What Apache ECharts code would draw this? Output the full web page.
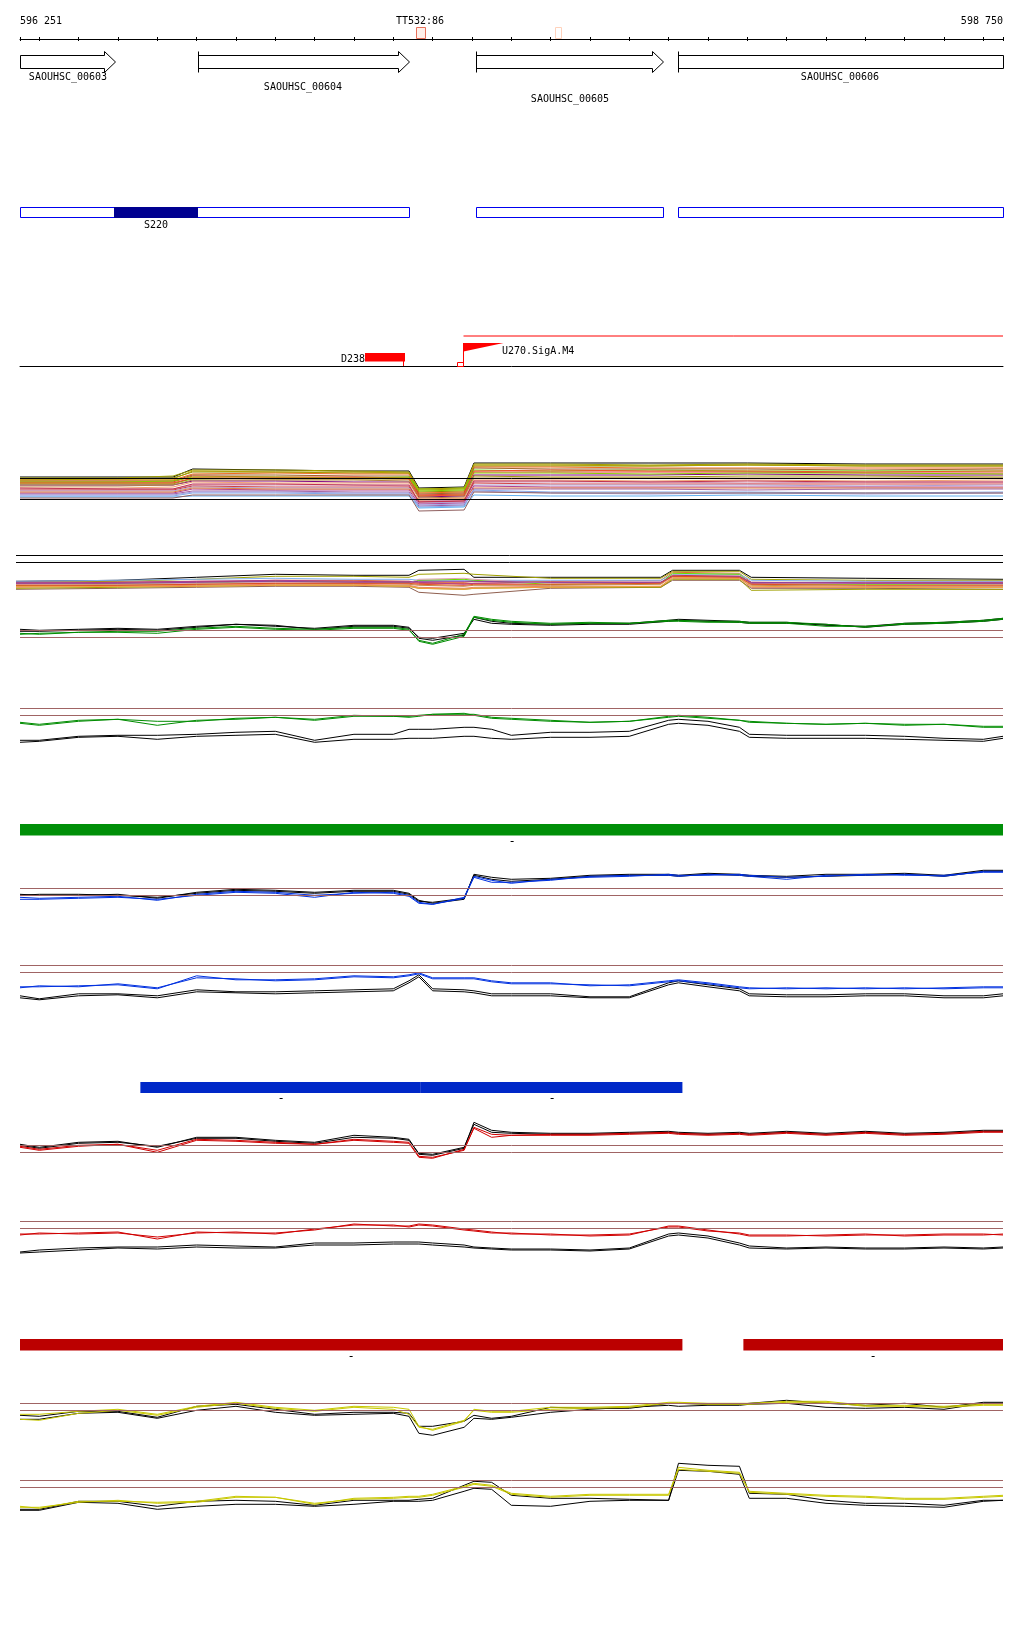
<!DOCTYPE html>
<html><head><meta charset="utf-8">
<script src="https://cdn.jsdelivr.net/npm/echarts@6/dist/echarts.min.js"></script>
<style>html,body{margin:0;padding:0;background:#fff}#c{width:1024px;height:1640px}</style>
</head><body><div id="c"></div>
<script>
// ---------------- DATA ----------------
const viewStart = 596251, viewEnd = 598750;
const rulerTicks = [596251,596300,596400,596500,596600,596700,596800,596900,597000,597100,597200,597300,597400,597500,597600,597700,597800,597900,598000,598100,598200,598300,598400,598500,598600,598700,598750];
const rulerLabels = [596251, 598750];
const terminatorMarks = [[597257, 597281, 'TT532:86'], [597611, 597626, '']];

const geneNames  = ['SAOUHSC_00603','SAOUHSC_00604','SAOUHSC_00605','SAOUHSC_00606'];
const geneStarts = [596180, 596703, 597411, 597923];
const geneEnds   = [596493, 597240, 597886, 598900];

const transcriptStarts = [596200, 597411, 597923];
const transcriptEnds   = [597240, 597886, 598900];
const operonNames = ['S220'];
const operonStarts = [596491];
const operonEnds = [596704];

const termNames = ['D238'];
const termStarts = [597127];
const termEnds = [597228];
const promoterNames = ['U270.SigA.M4'];
const promoterPos = [597378];

const greenSegments = [[596251, 598750]];
const blueSegments  = [[596557, 597270], [597270, 597935]];
const redSegments   = [[596200, 597935], [598090, 598750]];

// multi-condition track A
const posA = [596251,596500,596640,596690,596900,597100,597240,597265,597380,597405,597600,597850,598100,598400,598750];
const trackARefs = [8.0, 5.87];
const trackAValues = [
 [8.1,8.1,8.1,8.9,8.8,8.7,8.7,7.0,7.1,9.5,9.5,9.5,9.5,9.4,9.4],
 [8.0,8.0,8.2,8.8,8.8,8.7,8.6,6.8,6.9,9.4,9.4,9.3,9.4,9.3,9.3],
 [7.9,7.9,8.0,8.6,8.6,8.5,8.5,6.6,6.7,9.2,9.2,9.2,9.3,9.2,9.2],
 [7.8,7.8,7.8,8.4,8.5,8.4,8.4,6.5,6.6,9.1,9.1,9.0,9.0,9.0,9.0],
 [7.7,7.7,7.7,8.3,8.3,8.2,8.2,6.4,6.5,9.0,8.9,8.9,8.9,8.8,8.9],
 [7.5,7.5,7.5,7.9,8.0,8.0,8.1,6.9,7.0,8.8,8.7,8.8,8.7,8.7,8.7],
 [7.6,7.6,7.6,8.2,8.1,8.1,8.0,6.3,6.4,8.6,8.6,8.6,8.6,8.5,8.5],
 [7.3,7.3,7.3,7.7,7.7,7.6,7.6,6.1,6.2,8.3,8.3,8.3,8.4,8.3,8.3],
 [7.4,7.4,7.4,8.0,7.9,7.9,7.9,6.2,6.3,8.2,8.1,8.1,8.2,8.2,8.1],
 [7.2,7.2,7.3,7.8,7.8,7.8,7.7,6.0,6.1,8.0,8.0,8.0,8.0,8.0,8.0],
 [7.0,7.0,7.1,7.6,7.5,7.5,7.5,5.9,6.0,7.8,7.8,7.7,7.8,7.7,7.8],
 [6.9,6.9,6.9,7.3,7.3,7.3,7.2,5.7,5.8,7.6,7.6,7.6,7.5,7.6,7.6],
 [6.8,6.8,6.8,7.2,7.1,7.1,7.1,5.6,5.7,7.5,7.4,7.4,7.4,7.4,7.4],
 [6.7,6.7,6.7,7.1,7.0,7.0,7.0,5.5,5.6,7.3,7.3,7.3,7.3,7.2,7.3],
 [6.5,6.5,6.5,6.9,6.8,6.8,6.8,5.4,5.5,7.2,7.1,7.1,7.1,7.1,7.1],
 [6.6,6.6,6.6,7.0,6.9,6.9,6.9,5.8,5.9,7.0,7.0,7.0,7.0,7.0,7.0],
 [6.4,6.4,6.4,6.7,6.7,6.6,6.6,5.2,5.3,6.9,6.9,6.9,6.8,6.9,6.9],
 [6.2,6.2,6.2,6.5,6.5,6.4,6.4,5.1,5.2,6.8,6.6,6.6,6.6,6.5,6.6],
 [6.3,6.3,6.3,6.6,6.6,6.5,6.5,5.3,5.4,6.7,6.5,6.4,6.5,6.4,6.5],
 [6.1,6.1,6.1,6.2,6.2,6.2,6.2,5.0,5.1,6.3,6.2,6.2,6.3,6.2,6.2],
 [6.0,6.0,6.0,6.3,6.3,6.3,6.3,4.7,4.8,6.6,6.5,6.5,6.5,6.5,6.5],
 [7.0,6.9,6.9,7.4,7.4,7.3,7.3,5.6,5.7,7.7,7.7,7.6,7.7,7.6,7.6],
 [7.6,7.6,7.7,8.1,8.1,8.0,8.0,6.7,6.8,8.5,8.5,8.4,8.5,8.5,8.4],
 [7.8,7.9,7.9,8.7,8.6,8.6,8.5,6.9,7.0,9.3,9.3,9.2,9.3,9.2,9.2],
 [7.5,7.5,7.5,8.0,8.0,8.0,7.9,6.2,6.3,8.7,8.8,8.7,8.7,8.6,8.7]
];

// multi-condition track B
const posB = [596241,596500,596700,596900,597100,597240,597265,597380,597405,597600,597880,597910,598080,598110,598400,598750];
const trackBRefs = [8.7, 8.0];
const trackBValues = [
 [6.1,6.2,6.5,6.8,6.7,6.7,7.2,7.3,6.5,6.5,6.5,7.2,7.2,6.5,6.4,6.3],
 [6.0,6.1,6.3,6.6,6.6,6.5,6.8,6.9,6.8,6.4,6.4,7.1,7.1,6.3,6.2,6.2],
 [5.8,5.9,6.0,6.2,6.2,6.1,6.0,6.0,6.1,6.1,6.2,7.0,6.9,6.0,6.0,6.0],
 [6.1,6.2,6.3,6.4,6.3,6.3,6.2,6.2,6.2,6.2,6.2,6.8,6.8,6.2,6.1,6.1],
 [5.9,6.0,6.1,6.1,6.1,6.0,5.9,5.9,5.9,6.0,6.0,6.7,6.6,5.9,5.9,5.9],
 [5.7,5.8,5.9,6.1,6.0,6.0,6.2,6.3,6.2,5.8,5.9,6.9,6.8,5.8,5.8,5.8],
 [5.6,5.7,5.8,5.9,5.9,5.8,5.7,5.6,5.7,5.7,5.8,6.6,6.5,5.7,5.6,5.6],
 [6.0,6.0,6.1,6.2,6.1,6.1,6.0,5.8,5.9,6.0,6.0,6.6,6.6,5.9,6.0,6.0],
 [5.8,5.8,5.9,6.0,6.0,5.9,6.3,6.4,6.3,5.9,5.9,6.5,6.5,5.8,5.9,5.8],
 [5.5,5.6,5.7,5.8,5.8,5.7,5.5,5.4,5.5,5.6,5.6,6.4,6.4,5.5,5.5,5.5],
 [5.3,5.4,5.5,5.6,5.6,5.5,5.0,4.7,4.8,5.4,5.5,6.2,6.2,5.4,5.4,5.3],
 [5.4,5.5,5.6,5.7,5.7,5.6,5.4,5.3,5.4,5.5,5.5,6.3,6.3,5.2,5.3,5.3],
 [5.6,5.6,5.6,5.7,5.7,5.6,5.4,5.3,5.4,5.5,5.6,6.5,6.4,5.6,5.5,5.5],
 [5.9,5.9,6.0,6.1,6.0,6.0,6.1,6.1,6.1,6.0,6.0,6.6,6.6,6.0,5.9,5.9],
 [5.7,5.7,5.8,5.9,5.9,5.9,5.8,5.7,5.8,5.8,5.9,6.6,6.5,5.8,5.7,5.7]
];

// paired tracks (two replicates of condition + two of reference)
const posL = [596251,596300,596400,596500,596600,596700,596800,596900,597000,597100,597200,597240,597265,597300,597380,597405,597450,597500,597600,597700,597800,597900,597925,598000,598080,598105,598200,598300,598400,598500,598600,598700,598750];
const thresholdHigh = 5.7, thresholdLow = 5.0;

const green1A = [5.4,5.3,5.5,5.6,5.6,5.9,6.1,5.9,5.8,6.0,6.0,5.8,4.6,4.3,5.1,7.0,6.7,6.5,6.3,6.4,6.4,6.6,6.6,6.5,6.5,6.4,6.4,6.1,6.1,6.3,6.4,6.6,6.8];
const green1B = [5.3,5.4,5.5,5.5,5.4,5.8,6.0,5.8,5.7,5.9,5.9,5.7,4.7,4.4,5.3,7.1,6.8,6.6,6.4,6.5,6.4,6.7,6.7,6.6,6.6,6.5,6.5,6.3,6.0,6.4,6.5,6.7,6.9];
const green1RefA = [5.8,5.7,5.8,5.9,5.8,6.1,6.3,6.1,5.9,6.2,6.2,6.0,4.9,4.7,5.2,7.0,6.6,6.4,6.3,6.4,6.4,6.7,6.8,6.7,6.6,6.5,6.5,6.2,6.1,6.4,6.5,6.7,6.9];
const green1RefB = [5.6,5.6,5.7,5.8,5.7,6.0,6.3,6.2,5.8,6.1,6.1,5.9,5.0,4.9,5.4,6.8,6.4,6.3,6.2,6.3,6.3,6.6,6.7,6.6,6.5,6.4,6.4,6.3,6.0,6.3,6.4,6.6,6.8];

const green2A = [4.3,4.1,4.5,4.6,4.4,4.4,4.7,4.8,4.6,5.0,4.9,4.9,5.0,5.1,5.2,5.0,4.7,4.6,4.4,4.3,4.4,4.9,5.0,4.8,4.5,4.3,4.2,4.1,4.2,4.0,4.1,3.8,3.8];
const green2B = [4.2,4.0,4.4,4.6,4.0,4.5,4.6,4.8,4.5,4.9,4.9,4.8,4.9,5.1,5.1,5.1,4.8,4.7,4.5,4.3,4.4,4.8,4.9,4.7,4.5,4.4,4.2,4.1,4.2,4.1,4.1,3.9,3.9];
const green2RefA = [2.5,2.5,2.9,3.0,3.0,3.1,3.3,3.4,2.5,3.1,3.1,3.6,3.6,3.6,3.8,3.8,3.6,3.0,3.3,3.3,3.4,4.5,4.6,4.4,3.8,3.1,3.0,3.0,3.0,2.9,2.7,2.6,2.9];
const green2RefB = [2.3,2.4,2.8,2.9,2.6,2.9,3.0,3.1,2.3,2.6,2.6,2.7,2.7,2.7,2.9,2.9,2.7,2.6,2.8,2.8,2.9,4.1,4.2,4.0,3.4,2.8,2.7,2.7,2.7,2.6,2.5,2.4,2.7];

const blue1A = [4.6,4.6,4.7,4.8,4.6,5.0,5.3,5.2,4.8,5.3,5.2,4.9,4.2,4.1,4.7,6.8,6.3,6.3,6.5,6.9,7.0,7.0,6.9,7.1,7.0,6.9,6.6,7.0,7.0,7.1,6.9,7.4,7.4];
const blue1B = [4.8,4.7,4.8,4.9,4.5,5.1,5.4,5.3,5.0,5.2,5.3,5.0,4.3,4.1,4.8,6.9,6.5,6.2,6.6,6.8,6.9,7.1,7.0,7.0,7.1,7.0,6.8,6.9,7.1,7.0,7.0,7.3,7.3];
const blue1RefA = [5.1,5.0,5.0,5.1,4.7,5.3,5.6,5.5,5.3,5.5,5.5,5.2,4.5,4.2,4.6,7.1,6.8,6.6,6.7,7.0,7.1,7.1,7.0,7.2,7.1,7.0,6.9,7.1,7.1,7.2,7.0,7.5,7.5];
const blue1RefB = [5.0,5.1,5.1,5.0,4.8,5.2,5.5,5.4,5.2,5.4,5.4,5.1,4.4,4.3,4.7,7.0,6.6,6.4,6.6,6.9,7.0,7.0,6.9,7.1,7.0,6.9,6.8,6.9,7.0,7.1,6.9,7.4,7.4];

const blue2A = [3.5,3.5,3.6,3.7,3.3,4.6,4.2,4.2,4.3,4.6,4.5,4.7,4.9,4.4,4.4,4.4,4.1,3.9,3.9,3.6,3.7,4.1,4.2,3.9,3.5,3.4,3.3,3.4,3.3,3.4,3.3,3.4,3.4];
const blue2B = [3.4,3.6,3.5,3.8,3.4,4.4,4.3,4.1,4.2,4.5,4.4,4.6,4.8,4.3,4.3,4.3,4.0,3.8,3.8,3.7,3.6,4.0,4.1,3.8,3.4,3.3,3.4,3.3,3.4,3.3,3.4,3.5,3.5];
const blue2RefA = [2.6,2.3,2.8,2.8,2.6,3.2,3.0,3.0,3.1,3.2,3.3,4.1,4.7,3.3,3.2,3.1,2.8,2.8,2.8,2.5,2.5,3.9,4.1,3.7,3.3,2.8,2.7,2.7,2.8,2.8,2.6,2.6,2.8];
const blue2RefB = [2.4,2.2,2.6,2.7,2.4,3.0,2.9,2.8,2.9,3.0,3.1,3.9,4.5,3.1,3.0,2.9,2.6,2.6,2.6,2.4,2.4,3.7,3.9,3.5,3.1,2.6,2.5,2.5,2.6,2.6,2.4,2.4,2.6];

const red1A = [5.6,5.3,5.7,5.8,5.2,6.3,6.2,6.0,5.8,6.3,6.1,6.0,4.6,4.5,5.2,7.5,6.8,6.7,6.8,6.8,6.9,7.0,6.9,6.8,6.9,6.8,7.0,6.8,7.0,6.8,6.9,7.1,7.1];
const red1B = [5.5,5.2,5.6,5.8,5.0,6.2,6.1,5.9,5.8,6.2,6.0,5.9,4.5,4.4,5.3,7.4,6.5,6.7,6.7,6.7,6.8,6.9,6.8,6.7,6.8,6.7,6.9,6.7,6.9,6.7,6.8,7.0,7.0];
const red1RefA = [5.8,5.5,6.0,6.1,5.5,6.5,6.5,6.2,6.0,6.7,6.5,6.3,4.8,4.7,5.4,8.0,7.2,7.0,6.9,6.9,7.0,7.1,7.0,6.9,7.0,6.9,7.1,6.9,7.1,6.9,7.0,7.2,7.2];
const red1RefB = [5.7,5.4,5.9,6.0,5.6,6.4,6.4,6.1,5.9,6.5,6.4,6.2,4.9,4.8,5.5,7.8,7.0,6.9,6.8,6.8,6.9,7.0,6.9,6.8,6.9,6.8,7.0,6.8,7.0,6.8,6.9,7.1,7.1];

const red2A = [4.4,4.4,4.5,4.6,3.9,4.6,4.5,4.5,4.8,5.4,5.2,5.2,5.4,5.3,4.9,4.8,4.6,4.4,4.4,4.2,4.3,5.2,5.2,4.8,4.4,4.2,4.2,4.3,4.4,4.2,4.3,4.3,4.4];
const red2B = [4.3,4.5,4.4,4.5,4.1,4.5,4.6,4.4,4.9,5.3,5.3,5.1,5.3,5.2,4.8,4.7,4.5,4.5,4.3,4.3,4.4,5.1,5.1,4.7,4.5,4.3,4.3,4.2,4.3,4.3,4.4,4.4,4.3];
const red2RefA = [2.6,2.8,3.0,3.1,3.1,3.3,3.2,3.1,3.5,3.5,3.6,3.6,3.6,3.5,3.3,3.1,3.0,2.9,2.9,2.8,3.0,4.4,4.5,4.2,3.5,3.2,3.0,3.1,3.0,3.0,3.1,3.0,3.1];
const red2RefB = [2.5,2.6,2.8,3.0,2.9,3.1,3.0,3.0,3.3,3.3,3.4,3.4,3.4,3.3,3.1,3.0,2.9,2.8,2.8,2.7,2.9,4.2,4.3,4.0,3.3,3.0,2.9,3.0,2.9,2.9,3.0,2.9,3.0];

const yellow1A = [4.6,4.6,4.9,5.1,4.6,5.4,5.8,5.3,5.0,5.4,5.3,5.1,3.4,3.0,3.9,5.1,4.9,4.9,5.3,5.3,5.4,5.8,5.8,5.7,5.7,5.7,5.9,5.9,5.5,5.5,5.4,5.6,5.6];
const yellow1B = [4.1,4.0,4.7,5.0,4.5,5.3,5.7,5.2,4.9,5.3,5.1,4.6,3.3,3.1,4.0,5.0,4.8,4.8,5.1,5.2,5.3,5.7,5.7,5.6,5.6,5.6,5.8,5.8,5.4,5.4,5.3,5.5,5.5];
const yellow1RefA = [4.5,4.4,4.9,4.9,4.3,5.4,5.6,5.1,4.6,4.8,4.8,4.7,3.4,3.4,3.9,4.5,4.2,4.4,5.3,5.2,5.2,5.7,5.7,5.6,5.6,5.7,6.0,5.7,5.5,5.7,5.3,5.8,5.8];
const yellow1RefB = [4.1,4.1,4.7,4.8,4.2,5.0,5.4,4.8,4.5,4.6,4.7,4.4,2.7,2.5,3.3,4.2,4.1,4.3,4.8,5.1,5.3,5.5,5.4,5.5,5.5,5.6,5.7,5.3,5.2,5.3,5.1,5.7,5.7];

const yellow2A = [3.1,2.9,3.6,3.6,3.5,3.6,4.1,4.0,3.3,3.9,4.0,4.1,4.1,4.3,5.1,5.4,5.2,4.4,4.1,4.3,4.3,4.3,7.0,6.7,6.5,4.6,4.4,4.2,4.1,3.9,3.9,4.1,4.2];
const yellow2B = [3.0,3.0,3.5,3.7,3.4,3.5,4.0,4.0,3.4,3.8,3.9,4.0,4.0,4.2,5.0,5.3,5.1,4.3,4.0,4.2,4.2,4.2,6.8,6.6,6.4,4.5,4.3,4.1,4.0,3.8,3.8,4.0,4.1];
const yellow2RefA = [2.8,2.8,3.6,3.6,3.1,3.6,3.7,3.6,3.2,3.7,3.7,3.7,3.8,3.9,5.2,5.6,5.5,4.2,3.9,3.9,3.8,3.7,7.4,7.2,7.1,4.4,4.3,3.7,3.4,3.4,3.2,3.7,3.7];
const yellow2RefB = [2.7,2.7,3.5,3.4,2.8,3.1,3.3,3.3,3.1,3.3,3.6,3.6,3.6,3.7,4.6,4.9,4.8,3.2,3.1,3.6,3.7,3.7,6.7,6.6,6.3,3.9,3.9,3.4,3.2,3.1,3.0,3.6,3.7];

// ---------------- STYLE ----------------
const FONT = '10px "DejaVu Sans Mono"';
const colorsA = ['#000000','#a0a000','#8c8c00','#f06a20','#a06428','#66dd00','#e03a2a','#800080','#9a9a10','#b08040','#f0a070','#d090b0','#d04040','#b0a0d0','#b04090','#e08040','#a060a0','#80a8e8','#a0a0e0','#60b0f0','#906060','#c03050','#88cc00','#b0a000','#f05030'];
const colorsB = ['#000000','#a0a000','#e07030','#80b0f0','#d03030','#66dd00','#c08850','#b04090','#e0a0b0','#f08060','#906050','#a0a000','#f0a040','#9040a0','#e05020'];
const brown = '#a06464';
const geneLabelRowY = [76, 85.5, 97.5];
const geneLabelRow = [0, 1, 2, 0];
const TEXT_DY = 1.5;

const L = 20, W = 983;
const grids = [];
const xAxes = [];
const yAxes = [];
function addGrid(g, ymin, ymax, xmin, xopts) {
  const i = grids.length;
  grids.push(Object.assign({left: L, width: W}, g));
  xAxes.push(Object.assign({gridIndex: i, type: 'value', min: xmin || viewStart, max: viewEnd, show: false, splitLine: {show: false}}, xopts || {}));
  yAxes.push({gridIndex: i, type: 'value', min: ymin, max: ymax, show: false, splitLine: {show: false}});
  return i;
}
const fmtPos = v => String(v).replace(/(\d{3})(\d{3})$/, '$1 $2');

// ruler grid with two x axes
const gRuler = grids.length;
grids.push({left: L, width: W, top: 38, height: 1});
xAxes.push({gridIndex: gRuler, type: 'value', min: viewStart, max: viewEnd, position: 'top',
  axisLine: {show: true, lineStyle: {color: '#000', width: 1}},
  axisTick: {show: true, customValues: rulerTicks, length: 2, lineStyle: {color: '#000'}},
  axisLabel: {show: true, customValues: rulerLabels, formatter: fmtPos, margin: 12, color: '#000', fontFamily: 'DejaVu Sans Mono', fontSize: 10, alignMinLabel: 'left', alignMaxLabel: 'right'},
  splitLine: {show: false}});
xAxes.push({gridIndex: gRuler, type: 'value', min: viewStart, max: viewEnd, position: 'top',
  axisLine: {show: false}, axisTick: {show: true, inside: true, customValues: rulerTicks, length: 3, lineStyle: {color: '#000'}},
  axisLabel: {show: false}, splitLine: {show: false}});
yAxes.push({gridIndex: gRuler, type: 'value', min: 0, max: 1, show: false});

const gGenes = addGrid({top: 45, height: 60}, 0, 1);
const gTx = addGrid({top: 200, height: 40}, 0, 1);
const gProm = addGrid({top: 316, height: 50}, 0, 1, null, {show: true, position: 'bottom', axisLine: {show: true, lineStyle: {color: '#000', width: 1}}, axisTick: {show: false}, axisLabel: {show: false}});
const gA = addGrid({top: 438, height: 80}, 4, 12);
const gB = addGrid({left: 16, width: 987, top: 542.3, height: 100}, 0, 10, 596241);
const pairTops = [587.3, 665.3, 845.3, 921.8, 1102.3, 1178, 1360.3, 1437.3];
const gPairs = pairTops.map(t => addGrid({top: t, height: 100}, 0, 10));
const gGreenBar = addGrid({top: 824, height: 11.5}, 0, 1);
const gBlueBar = addGrid({top: 1082, height: 11}, 0, 1);
const gRedBar = addGrid({top: 1339, height: 11.5}, 0, 1);

const xIdx = gi => gi === 0 ? 0 : gi + 1; // ruler has two x axes
const series = [];
function line(gi, xs, ys, color, extra) {
  series.push(Object.assign({type: 'line', xAxisIndex: xIdx(gi), yAxisIndex: gi, data: xs.map((x, k) => [x, ys[k]]),
    symbol: 'none', showSymbol: false, lineStyle: {width: 1, color: color}, silent: true, animation: false}, extra || {}));
}
function refLines(vals, color) {
  return {silent: true, symbol: 'none', animation: false, label: {show: false}, lineStyle: {color: color, width: 1, type: 'solid'}, emphasis: {disabled: true}, data: vals.map(v => ({yAxis: v}))};
}

// track A
trackAValues.forEach((vals, k) => line(gA, posA, vals, colorsA[k], k === 0 ? {markLine: refLines(trackARefs, '#000')} : {}));
// track B
trackBValues.forEach((vals, k) => line(gB, posB, vals, colorsB[k], k === 0 ? {markLine: refLines(trackBRefs, '#000')} : {}));
// paired tracks
const pairSets = [
  [green1A, green1B, green1RefA, green1RefB, '#008c00'],
  [green2A, green2B, green2RefA, green2RefB, '#008c00'],
  [blue1A, blue1B, blue1RefA, blue1RefB, '#0030e0'],
  [blue2A, blue2B, blue2RefA, blue2RefB, '#0030e0'],
  [red1A, red1B, red1RefA, red1RefB, '#d00000'],
  [red2A, red2B, red2RefA, red2RefB, '#d00000'],
  [yellow1A, yellow1B, yellow1RefA, yellow1RefB, '#c8c800'],
  [yellow2A, yellow2B, yellow2RefA, yellow2RefB, '#c8c800']
];
pairSets.forEach((s, k) => {
  const gi = gPairs[k];
  line(gi, posL, s[2], '#000', {markLine: refLines([thresholdHigh, thresholdLow], brown), z: 2});
  line(gi, posL, s[3], '#000', {z: 2});
  line(gi, posL, s[0], s[4], {z: 3});
  line(gi, posL, s[1], s[4], {z: 3});
});

const crisp = v => Math.round(v) + 0.5;
function txt(text, x, y, align, size) {
  return {type: 'text', style: {text: text, x: Math.round(x), y: y + TEXT_DY, align: align || 'center', textAlign: align || 'center', verticalAlign: 'middle', textVerticalAlign: 'middle', font: size ? size + 'px "DejaVu Sans Mono"' : FONT, fill: '#000'}};
}

// terminator marks on ruler
series.push({type: 'custom', xAxisIndex: 0, yAxisIndex: gRuler, silent: true, animation: false, clip: false,
  data: terminatorMarks.map((t, i) => [t[0], t[1], i]),
  renderItem: (params, api) => {
    const i = api.value(2);
    const x0 = api.coord([api.value(0), 0])[0], x1 = api.coord([api.value(1), 0])[0];
    const strong = terminatorMarks[i][2] !== '';
    const ch = [{type: 'rect', shape: {x: crisp(x0), y: 27.5, width: Math.round(x1 - x0), height: 11}, style: {fill: strong ? '#fff0ea' : '#fff', stroke: strong ? '#e8705a' : '#ffd2bc', lineWidth: 1}}];
    if (strong) ch.push(txt(terminatorMarks[i][2], (x0 + x1) / 2, 20));
    return {type: 'group', children: ch};
  }});

// genes
series.push({type: 'custom', xAxisIndex: xIdx(gGenes), yAxisIndex: gGenes, silent: true, animation: false, clip: false,
  data: geneNames.map((n, i) => [geneStarts[i], geneEnds[i], i]),
  renderItem: (params, api) => {
    const i = api.value(2);
    const cs = params.coordSys;
    const left = cs.x, right = cs.x + cs.width;
    const xsRaw = api.coord([api.value(0), 0])[0], xeRaw = api.coord([api.value(1), 0])[0];
    const xs = Math.max(xsRaw, left), xe = Math.min(xeRaw, right);
    const sx = crisp(xs), ex = crisp(xe);
    const top = 55.5, bot = 68.5, hTop = 51.5, hBot = 72.5, mid = 62;
    const ch = [];
    if (xeRaw <= right + 1) {
      const hb = ex - 11;
      ch.push({type: 'polygon', shape: {points: [[sx, top], [hb, top], [hb, hTop], [ex, mid], [hb, hBot], [hb, bot], [sx, bot]]}, style: {fill: '#fff', stroke: '#000', lineWidth: 1}});
    } else {
      ch.push({type: 'rect', shape: {x: sx, y: top, width: ex - sx, height: bot - top}, style: {fill: '#fff', stroke: '#000', lineWidth: 1}});
    }
    if (xsRaw >= left - 0.5) ch.push({type: 'line', shape: {x1: sx, y1: hTop, x2: sx, y2: hBot}, style: {stroke: '#000', lineWidth: 1}});
    ch.push(txt(geneNames[i], (xs + xe) / 2, geneLabelRowY[geneLabelRow[i]]));
    return {type: 'group', children: ch};
  }});

// transcripts
series.push({type: 'custom', xAxisIndex: xIdx(gTx), yAxisIndex: gTx, silent: true, animation: false, clip: false,
  data: transcriptStarts.map((s, i) => [s, transcriptEnds[i]]),
  renderItem: (params, api) => {
    const cs = params.coordSys;
    const x0 = Math.max(api.coord([api.value(0), 0])[0], cs.x), x1 = Math.min(api.coord([api.value(1), 0])[0], cs.x + cs.width);
    return {type: 'rect', shape: {x: crisp(x0), y: 207.5, width: Math.round(x1 - x0), height: 10}, style: {fill: '#fff', stroke: '#0000f0', lineWidth: 1}};
  }});
series.push({type: 'custom', xAxisIndex: xIdx(gTx), yAxisIndex: gTx, silent: true, animation: false, clip: false, z: 3,
  data: operonStarts.map((s, i) => [s, operonEnds[i], i]),
  renderItem: (params, api) => {
    const x0 = api.coord([api.value(0), 0])[0], x1 = api.coord([api.value(1), 0])[0];
    return {type: 'group', children: [
      {type: 'rect', shape: {x: Math.round(x0), y: 207, width: Math.round(x1 - x0), height: 11}, style: {fill: '#000090'}},
      txt(operonNames[api.value(2)], (x0 + x1) / 2, 223.8)
    ]};
  }});

// terminators / promoters
series.push({type: 'custom', xAxisIndex: xIdx(gProm), yAxisIndex: gProm, silent: true, animation: false, clip: false,
  data: termNames.map((n, i) => [termStarts[i], termEnds[i], i]),
  renderItem: (params, api) => {
    const x0 = api.coord([api.value(0), 0])[0], x1 = api.coord([api.value(1), 0])[0];
    return {type: 'group', children: [
      {type: 'rect', shape: {x: Math.round(x0), y: 353, width: Math.round(x1 - x0), height: 8.5}, style: {fill: '#ff0000'}},
      {type: 'line', shape: {x1: crisp(x1) - 1, y1: 361, x2: crisp(x1) - 1, y2: 366}, style: {stroke: '#ff0000', lineWidth: 1}},
      txt(termNames[api.value(2)], Math.round(x0), 357.8, 'right')
    ]};
  }});
series.push({type: 'custom', xAxisIndex: xIdx(gProm), yAxisIndex: gProm, silent: true, animation: false, clip: false,
  data: promoterPos.map((p, i) => [p, i]),
  renderItem: (params, api) => {
    const cs = params.coordSys;
    const x = crisp(api.coord([api.value(0), 0])[0]);
    const right = cs.x + cs.width;
    return {type: 'group', children: [
      {type: 'line', shape: {x1: x, y1: 336, x2: right, y2: 336}, style: {stroke: '#ff0000', lineWidth: 1}},
      {type: 'line', shape: {x1: x, y1: 343, x2: x, y2: 366}, style: {stroke: '#ff0000', lineWidth: 1}},
      {type: 'polygon', shape: {points: [[x, 343], [x + 40, 343], [x, 351.5]]}, style: {fill: '#ff0000'}},
      {type: 'rect', shape: {x: x - 6, y: 362.5, width: 6, height: 4}, style: {fill: 'none', stroke: '#ff0000', lineWidth: 1}},
      txt(promoterNames[api.value(1)], x + 38, 350.3, 'left')
    ]};
  }});

// coloured segment bars
function bars(gi, segs, color) {
  series.push({type: 'custom', xAxisIndex: xIdx(gi), yAxisIndex: gi, silent: true, animation: false, clip: false,
    data: segs,
    renderItem: (params, api) => {
      const cs = params.coordSys;
      const p0 = api.coord([api.value(0), 1]), p1 = api.coord([api.value(1), 0]);
      const x0 = Math.max(p0[0], cs.x), x1 = Math.min(p1[0], cs.x + cs.width);
      return {type: 'group', children: [
        {type: 'rect', shape: {x: x0, y: p0[1], width: x1 - x0, height: p1[1] - p0[1]}, style: {fill: color}},
        txt('-', (x0 + x1) / 2, p1[1] + 4.5, 'center', 12)
      ]};
    }});
}
bars(gGreenBar, greenSegments, '#008f08');
bars(gBlueBar, blueSegments, '#0028c8');
bars(gRedBar, redSegments, '#bb0000');

const chart = echarts.init(document.getElementById('c'), null, {renderer: 'canvas', width: 1024, height: 1640});
chart.setOption({
  animation: false,
  backgroundColor: '#fff',
  grid: grids,
  xAxis: xAxes,
  yAxis: yAxes,
  series: series
});
</script>
</body></html>
